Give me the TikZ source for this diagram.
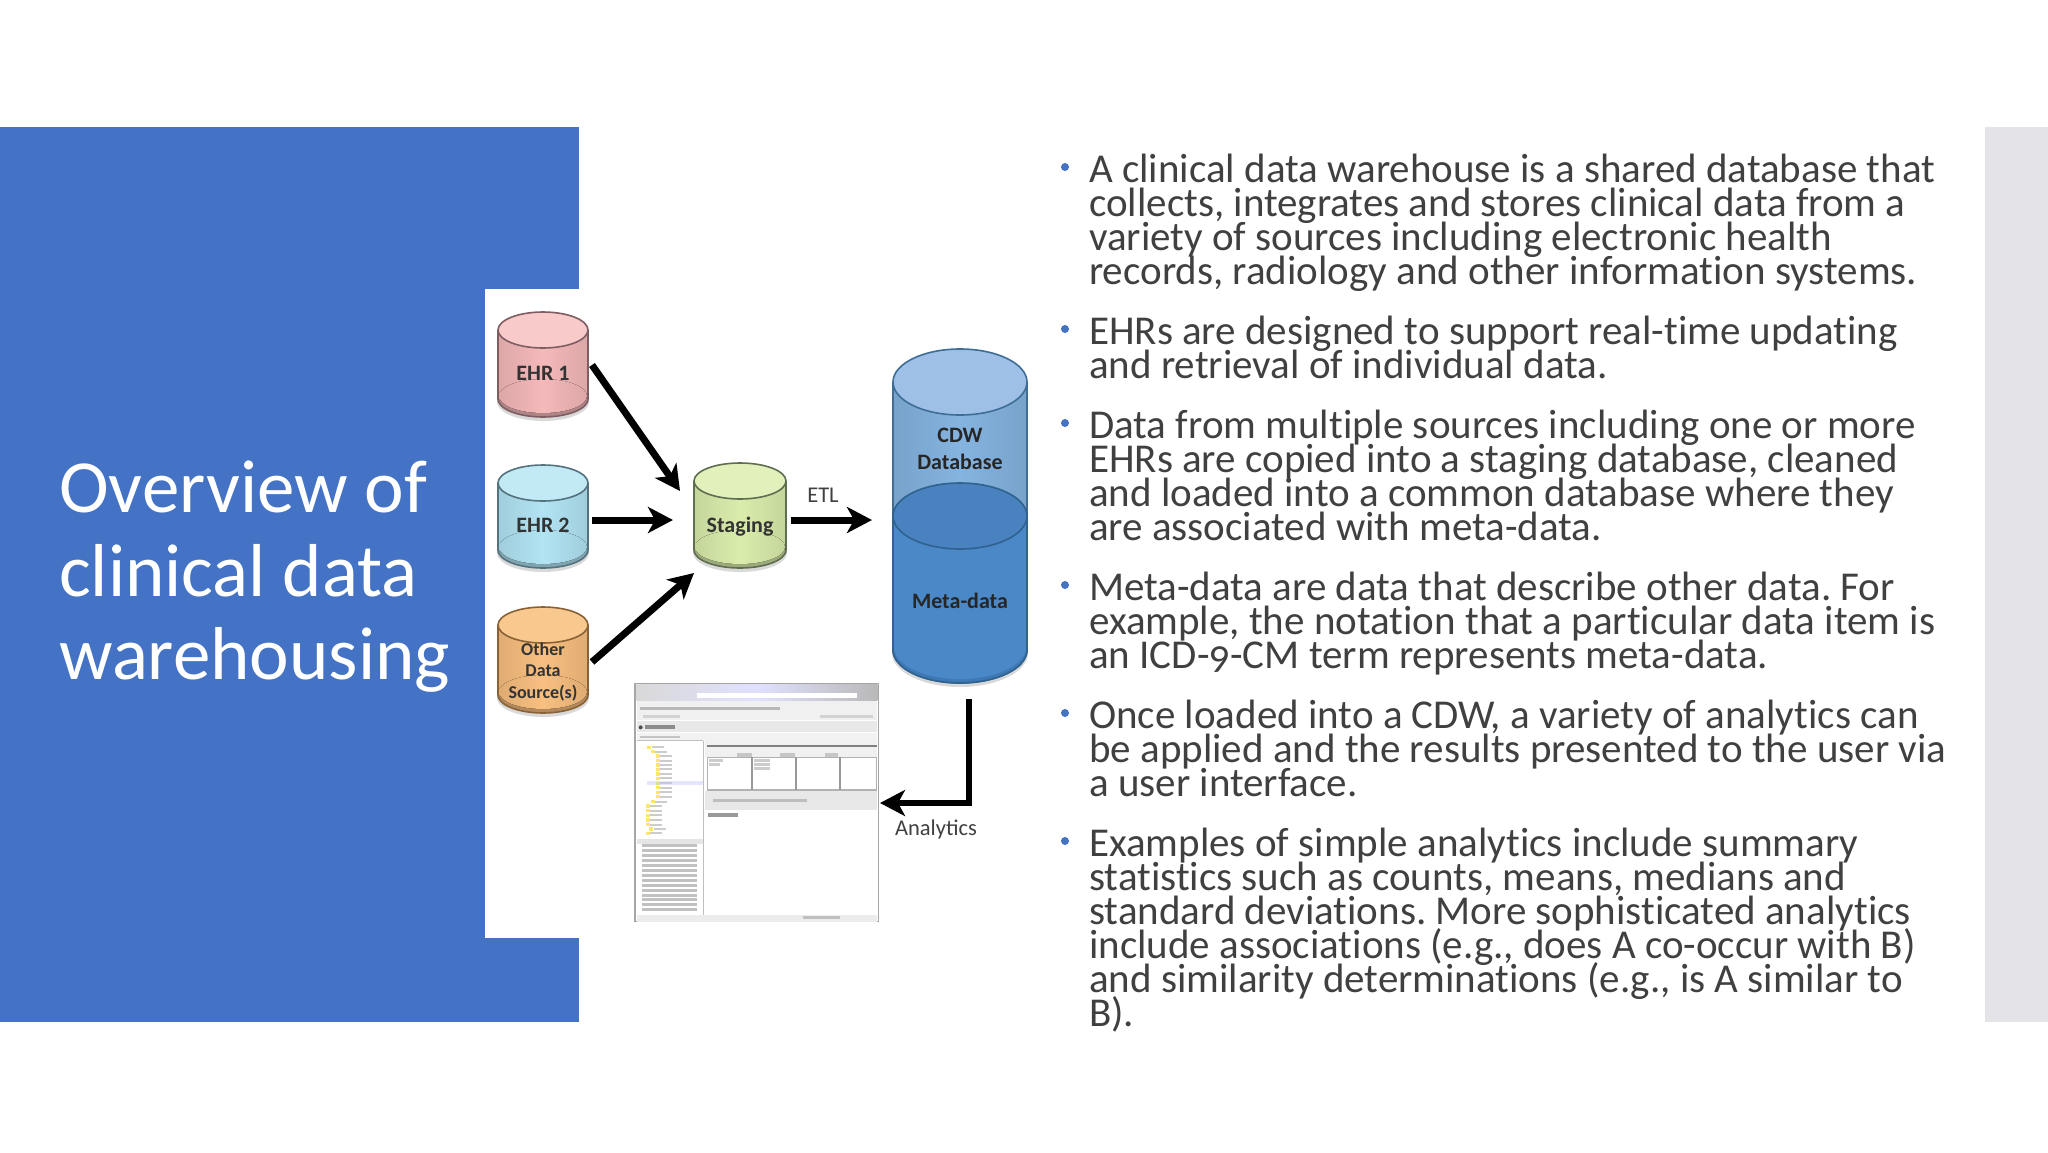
\documentclass[tikz,border=0pt]{standalone}
\usepackage{fontspec}
\setmainfont{Carlito}
\newfontfamily\bodyfont[Numbers=OldStyle,Ligatures=NoCommon]{Carlito}
\usetikzlibrary{arrows.meta}
\definecolor{slideblue}{HTML}{4472C4}
\definecolor{sidegray}{HTML}{E3E3E8}
\definecolor{bodytext}{HTML}{404040}
\definecolor{pinkB}{HTML}{F5B9BA}\definecolor{pinkE}{HTML}{7E5E62}\definecolor{pinkT}{HTML}{F8CACA}
\definecolor{cyanB}{HTML}{B2E4F4}\definecolor{cyanE}{HTML}{55727F}\definecolor{cyanT}{HTML}{C2EAF5}
\definecolor{orngB}{HTML}{F8BF80}\definecolor{orngE}{HTML}{8A6236}\definecolor{orngT}{HTML}{F9C88E}
\definecolor{limeB}{HTML}{DAEDAC}\definecolor{limeE}{HTML}{5F6E50}\definecolor{limeT}{HTML}{E2F1BC}
\definecolor{cdwB}{HTML}{85B4E0}\definecolor{cdwE}{HTML}{3E6D96}\definecolor{cdwT}{HTML}{9FC0E6}
\definecolor{metaB}{HTML}{4A88C8}\definecolor{metaD}{HTML}{3E79B6}\definecolor{metaE}{HTML}{2F628E}\definecolor{metaT}{HTML}{4A82C0}
\tikzset{
  txt/.style={anchor=base west,inner sep=0pt,text=bodytext,font=\bodyfont\frenchspacing\fontsize{41}{41}\selectfont},
  ttl/.style={anchor=base west,inner sep=0pt,text=white,font=\fontsize{75}{75}\selectfont},
  dot/.style={circle,fill=slideblue,inner sep=0pt,minimum size=8pt},
  lab/.style={align=center,inner sep=0pt,font=\bfseries\fontsize{22}{25}\selectfont},
  plain/.style={inner sep=0pt,text=bodytext,font=\fontsize{22.5}{22.5}\selectfont},
  flow/.style={line width=7pt,draw=black,-{Stealth[length=25pt,width=26pt,inset=7pt]}},
  blur/.style={draw=#1,opacity=.4}
}
% name, cx, top-centre y, bottom-centre y, rx, ry, body colour, edge colour, top colour
\newcommand{\dbcyl}[9]{%
  \fill[black,opacity=.15] (#2-#5-1,#3) rectangle (#2+#5+1,#4+3);
  \fill[black,opacity=.15] (#2,#4+3) ellipse [x radius=#5+1,y radius=#6+1];
  \fill[#7] (#2,#4) ellipse [x radius=#5,y radius=#6];
  \fill[left color=#7!90!black,right color=#7!90!black,middle color=#7] (#2-#5,#3) rectangle (#2+#5,#4);
  \fill[#7!72!black] (#2,#4) ellipse [x radius=#5,y radius=#6];
  \fill[left color=#7!90!black,right color=#7!90!black,middle color=#7] (#2,#4-3) ellipse [x radius=#5-1,y radius=#6-1];
  \draw[#8,line width=1.6pt] (#2-#5,#3) -- (#2-#5,#4);
  \draw[#8,line width=1.6pt] (#2+#5,#3) -- (#2+#5,#4);
  \draw[#8,line width=1.6pt] (#2-#5,#4) arc (180:0:#5 and #6);
  \filldraw[draw=#8,fill=#9,line width=1.6pt] (#2,#3) ellipse [x radius=#5,y radius=#6];
}
\begin{document}
\begin{tikzpicture}[x=1pt,y=-1pt]
\useasboundingbox (0,0) rectangle (2048,1152);
\fill[white] (0,0) rectangle (2048,1152);
% slide bands
\fill[slideblue] (0,127) rectangle (579,1022);
\fill[sidegray] (1985,127) rectangle (2048,1022);
\fill[white] (485,289) rectangle (579,938);
% title
\node[ttl] (t1) at (59,512) {Overview of};
\node[ttl] (t2) at (59,596) {clinical data};
\node[ttl] (t3) at (59,679) {warehousing};
% cylinders
\dbcyl{a}{543}{330}{399}{45}{18}{pinkB}{pinkE}{pinkT}
\dbcyl{b}{543}{483}{550}{45}{18}{cyanB}{cyanE}{cyanT}
\dbcyl{c}{543}{625}{695}{45}{18}{orngB}{orngE}{orngT}
\dbcyl{d}{740}{481}{550}{46}{18}{limeB}{limeE}{limeT}
\dbcyl{e}{960}{382}{650}{67}{33}{cdwB}{cdwE}{cdwT}
% meta-data part of the big cylinder
\fill[metaB] (893,516) rectangle (1027,650);
\fill[metaD] (960,650) ellipse [x radius=67,y radius=33];
\fill[metaB] (960,647) ellipse [x radius=66,y radius=32];
\draw[metaE,line width=1.6pt] (893,516) -- (893,650);
\draw[metaE,line width=1.6pt] (1027,516) -- (1027,650);
\draw[metaE,line width=1.6pt] (893,650) arc (180:0:67 and 33);
\filldraw[draw=metaE,fill=metaT,line width=1.6pt] (960,516) ellipse [x radius=67,y radius=33];
% labels
\node[lab,text=black!80] (ehr1) at (543,373) {EHR 1};
\node[lab,text=black!80] (ehr2) at (543,525) {EHR 2};
\node[lab,text=black!80,font=\bfseries\fontsize{18}{21.5}\selectfont] (other) at (543,672) {Other\\Data\\Source(s)};
\node[lab,text=black!80] (staging) at (740,527) {Staging};
\node[lab,text=black!85,align=center,font=\bfseries\fontsize{22}{27}\selectfont] (cdw) at (960,449) {CDW\\Database};
\node[lab,text=black!85] (meta) at (960,601) {Meta-data};
\node[plain] (etl) at (823,495) {ETL};
\node[plain] (analytics) at (936,829) {Analytics};
% anchors for connectors
\coordinate (sIn1) at (680,491);
\coordinate (sIn2) at (673,520);
\coordinate (sIn3) at (694,573);
\coordinate (cIn) at (872,520);
\coordinate (s1) at (592,365);
\coordinate (s2) at (592,520);
\coordinate (s3) at (592,662);
\coordinate (s4) at (791,520);
\coordinate (s5) at (969,699);
\coordinate (sbend) at (969,803);
\coordinate (uiIn) at (880,803);
\draw[flow] (s1) -- (sIn1);
\draw[flow] (s2) -- (sIn2);
\draw[flow] (s3) -- (sIn3);
\draw[flow] (s4) -- (cIn);
\draw[flow,line width=6pt,line join=miter] (s5) -- (sbend) -- (uiIn);
% screenshot, in the coordinates of a 3x crop at (620,670)
\begin{scope}[shift={(620,670)},x=.3333pt,y=-.3333pt]
\filldraw[draw=gray!70,fill=white,line width=1.4pt] (45,40) rectangle (775,755);
\shade[left color=gray!30,right color=gray!55,middle color=blue!12] (50,42) rectangle (772,92);
\fill[white] (230,68) rectangle (710,84);
\fill[gray!12] (50,92) rectangle (772,150);
\fill[gray!18] (50,152) rectangle (772,185);
\draw[blur=gray!80!black,line width=3pt] (60,116) -- (480,116);
\draw[blur=gray!70,line width=3pt] (70,138) -- (180,138);
\draw[blur=gray!70,line width=3pt] (600,138) -- (760,138);
\draw[blur=black,line width=4pt] (75,172) -- (165,172);
\fill[black!70] (62,172) circle [radius=6];
\fill[gray!10] (50,188) rectangle (772,212);
\draw[blur=gray,line width=2pt] (60,200) -- (180,200);
% left tree
\draw[gray!50,line width=1.2pt] (50,212) -- (250,212) (250,212) -- (250,735);
\foreach \yy/\xx in {232/90,245/100,258/115,272/115,285/115,298/115,312/115,325/115,340/115,353/115,367/115,380/115,395/100,408/85,422/85,436/85,450/85,464/85,477/95,490/85}{
  \fill[yellow!70!orange!55] (\xx-8,\yy-5) rectangle (\xx+4,\yy+5);
  \draw[blur=gray,line width=2pt] (\xx+6,\yy) -- (\xx+42,\yy);
}
\fill[blue!25,opacity=.4] (80,334) rectangle (248,346);
\fill[gray!20] (50,508) rectangle (250,522);
\foreach \yy in {528,543,558,573,588,603,618,633,648,662,676,690,704,718}{
  \draw[blur=gray!80!black,line width=3pt] (65,\yy) -- (230,\yy);
}
% right panels
\fill[gray!12] (255,212) rectangle (772,262);
\draw[gray,line width=1.2pt] (262,228) -- (770,228);
\draw[gray!60,line width=1.2pt] (262,262) rectangle (770,360);
\foreach \xa in {396,528,660}{\draw[gray!80,line width=2pt] (\xa,262) -- (\xa,360);}
\foreach \xa/\xb in {350/395,480/525,615/655}{\fill[gray!45] (\xa,248) rectangle (\xb,260);}
\draw[blur=gray,line width=3pt] (268,272) -- (310,272);
\draw[blur=gray,line width=3pt] (268,283) -- (300,283);
\foreach \yy in {272,282,294}{\draw[blur=gray,line width=3pt] (402,\yy) -- (450,\yy);}
\fill[gray!18] (255,362) rectangle (772,420);
\draw[blur=gray,line width=3pt] (280,392) -- (560,392);
\draw[blur=black,line width=4pt] (265,436) -- (355,436);
% status bar
\fill[gray!15] (50,735) rectangle (772,755);
\draw[blur=gray,line width=3pt] (550,744) -- (660,744);
\end{scope}
% bullets and text
\node[dot] (b1) at (1065,167) {};
\node[txt] (p11) at (1089,182) {A clinical data warehouse is a shared database that};
\node[txt] (p12) at (1089,216) {collects, integrates and stores clinical data from a};
\node[txt] (p13) at (1089,250) {variety of sources including electronic health};
\node[txt] (p14) at (1089,284) {records, radiology and other information systems.};
\node[dot] (b2) at (1065,329) {};
\node[txt] (p21) at (1089,344) {EHRs are designed to support real-time updating};
\node[txt] (p22) at (1089,378) {and retrieval of individual data.};
\node[dot] (b3) at (1065,423) {};
\node[txt] (p31) at (1089,438) {Data from multiple sources including one or more};
\node[txt] (p32) at (1089,472) {EHRs are copied into a staging database, cleaned};
\node[txt] (p33) at (1089,506) {and loaded into a common database where they};
\node[txt] (p34) at (1089,540) {are associated with meta-data.};
\node[dot] (b4) at (1065,585) {};
\node[txt] (p41) at (1089,600) {Meta-data are data that describe other data. For};
\node[txt] (p42) at (1089,634) {example, the notation that a particular data item is};
\node[txt] (p43) at (1089,668) {an ICD-9-CM term represents meta-data.};
\node[dot] (b5) at (1065,713) {};
\node[txt] (p51) at (1089,728) {Once loaded into a CDW, a variety of analytics can};
\node[txt] (p52) at (1089,762) {be applied and the results presented to the user via};
\node[txt] (p53) at (1089,796) {a user interface.};
\node[dot] (b6) at (1065,841) {};
\node[txt] (p61) at (1089,856) {Examples of simple analytics include summary};
\node[txt] (p62) at (1089,890) {statistics such as counts, means, medians and};
\node[txt] (p63) at (1089,924) {standard deviations. More sophisticated analytics};
\node[txt] (p64) at (1089,958) {include associations (e.g., does A co-occur with B)};
\node[txt] (p65) at (1089,992) {and similarity determinations (e.g., is A similar to};
\node[txt] (p66) at (1089,1026) {B).};
\end{tikzpicture}
\end{document}
